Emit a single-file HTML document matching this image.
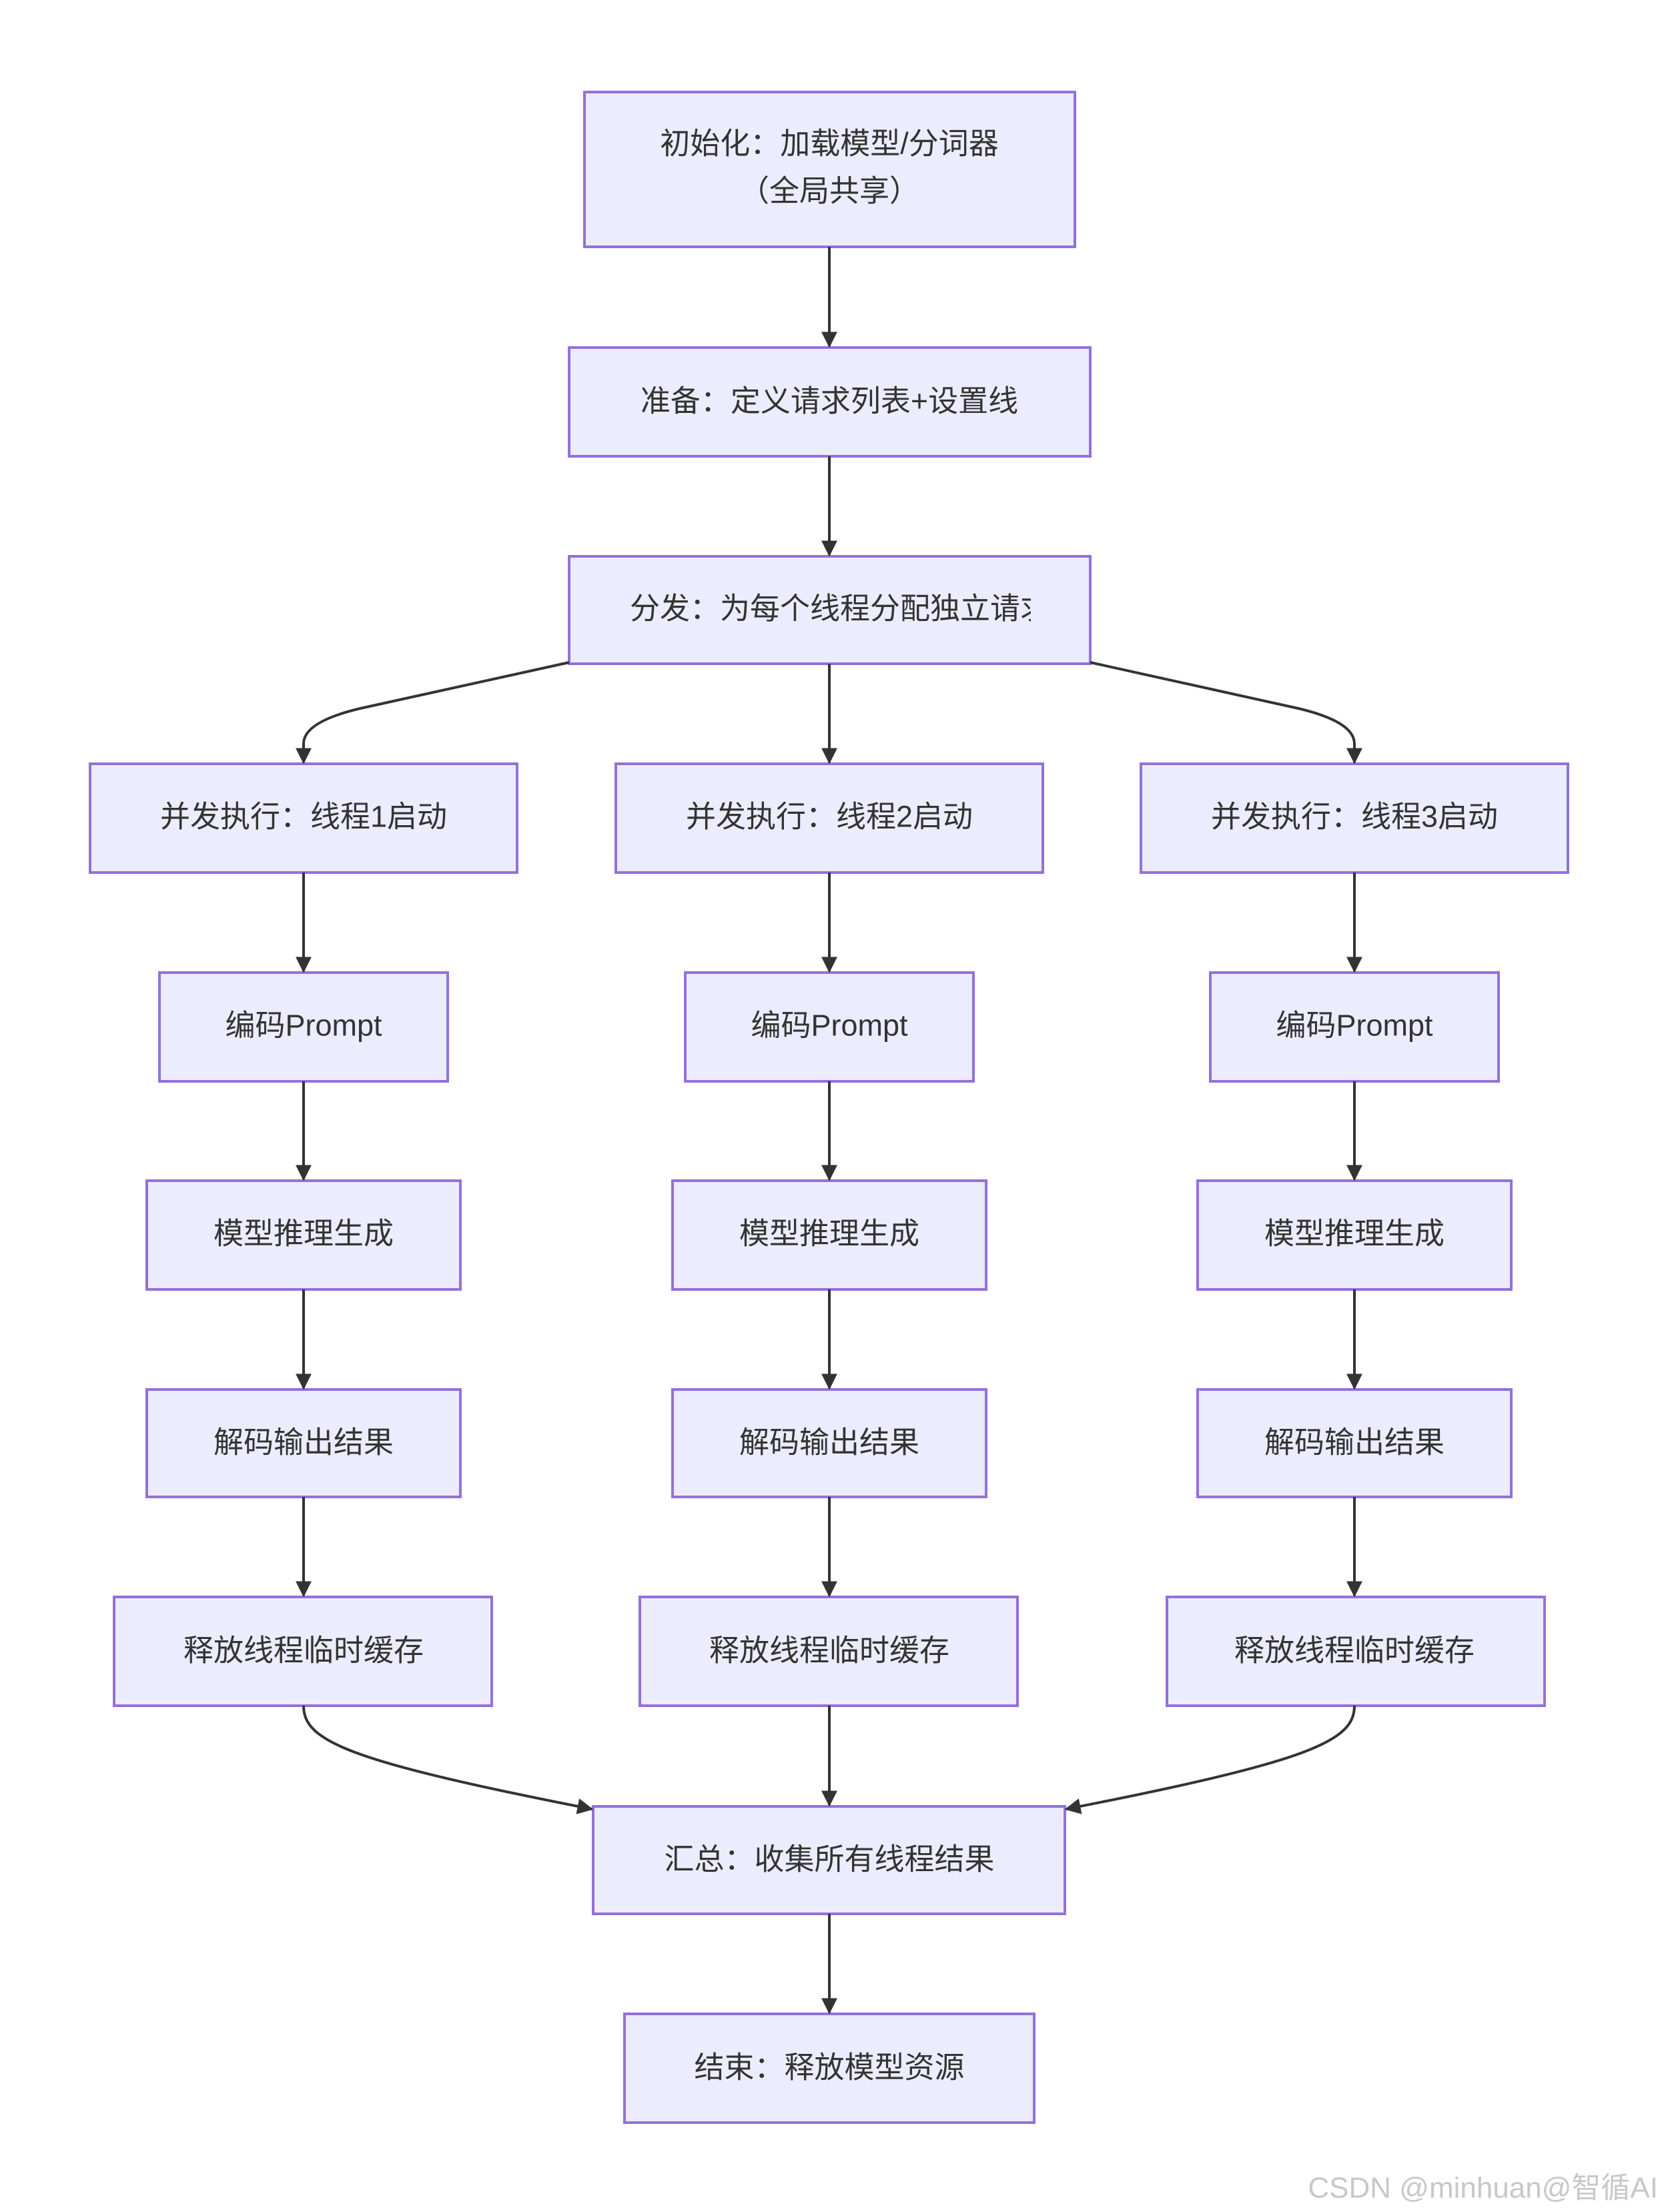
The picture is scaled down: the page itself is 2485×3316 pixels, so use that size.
<!DOCTYPE html>
<html><head><meta charset="utf-8"><style>
html,body{margin:0;padding:0;background:#fff;}
svg{display:block;}
text{font-family:"Liberation Sans","Noto Sans CJK SC",sans-serif;font-size:45px;fill:#333;text-anchor:middle;dominant-baseline:central;}
</style></head><body>
<svg width="2485" height="3316" viewBox="0 0 2485 3316" xmlns="http://www.w3.org/2000/svg">
<defs>
<marker id="a" viewBox="0 0 10 10" refX="9" refY="5" markerWidth="6" markerHeight="6" markerUnits="strokeWidth" orient="auto">
<path d="M0,0 L10,5 L0,10 z" fill="#333"/></marker>
<clipPath id="c3"><rect x="853" y="834" width="692" height="161"/></clipPath>
</defs>
<g fill="#ECECFF" stroke="#9370DB" stroke-width="4">
<rect x="876" y="138" width="735" height="232"/>
<rect x="853" y="521" width="781" height="163"/>
<rect x="853" y="834" width="781" height="161"/>
<rect x="135" y="1145" width="640" height="163"/>
<rect x="923" y="1145" width="640" height="163"/>
<rect x="1710" y="1145" width="640" height="163"/>
<rect x="239" y="1458" width="432" height="163"/>
<rect x="1027" y="1458" width="432" height="163"/>
<rect x="1814" y="1458" width="432" height="163"/>
<rect x="220" y="1770" width="470" height="163"/>
<rect x="1008" y="1770" width="470" height="163"/>
<rect x="1795" y="1770" width="470" height="163"/>
<rect x="220" y="2083" width="470" height="161"/>
<rect x="1008" y="2083" width="470" height="161"/>
<rect x="1795" y="2083" width="470" height="161"/>
<rect x="171" y="2394" width="566" height="163"/>
<rect x="959" y="2394" width="566" height="163"/>
<rect x="1749" y="2394" width="566" height="163"/>
<rect x="889" y="2708" width="707" height="161"/>
<rect x="936" y="3019" width="614" height="163"/>
</g>
<g stroke="#333" stroke-width="4" fill="none" marker-end="url(#a)">
<path d="M1243,370 L1243,519"/>
<path d="M1243,684 L1243,832"/>
<path d="M1243,995 L1243,1143"/>
<path d="M853,993 L540,1062 Q455,1082 455,1115 L455,1143"/>
<path d="M1634,993 L1946,1062 Q2030,1082 2030,1115 L2030,1143"/>
<path d="M455,1308 L455,1456"/><path d="M1243,1308 L1243,1456"/><path d="M2030,1308 L2030,1456"/>
<path d="M455,1621 L455,1768"/><path d="M1243,1621 L1243,1768"/><path d="M2030,1621 L2030,1768"/>
<path d="M455,1933 L455,2081"/><path d="M1243,1933 L1243,2081"/><path d="M2030,1933 L2030,2081"/>
<path d="M455,2244 L455,2392"/><path d="M1243,2244 L1243,2392"/><path d="M2030,2244 L2030,2392"/>
<path d="M455,2557 C455,2610 520,2640 887,2712"/>
<path d="M2030,2557 C2030,2610 1965,2640 1598,2712"/>
<path d="M1243,2557 L1243,2706"/>
<path d="M1243,2869 L1243,3017"/>
</g>
<text x="1243" y="215">初始化：加载模型/分词器</text>
<text x="1243" y="286">（全局共享）</text>
<text x="1243" y="601">准备：定义请求列表+设置线</text>
<g clip-path="url(#c3)"><text x="944" y="912" style="text-anchor:start">分发：为每个线程分配独立请求</text></g>
<text x="455" y="1224">并发执行：线程1启动</text>
<text x="1243" y="1224">并发执行：线程2启动</text>
<text x="2030" y="1224">并发执行：线程3启动</text>
<text x="455" y="1537">编码Prompt</text>
<text x="1243" y="1537">编码Prompt</text>
<text x="2030" y="1537">编码Prompt</text>
<text x="455" y="1849">模型推理生成</text>
<text x="1243" y="1849">模型推理生成</text>
<text x="2030" y="1849">模型推理生成</text>
<text x="455" y="2162">解码输出结果</text>
<text x="1243" y="2162">解码输出结果</text>
<text x="2030" y="2162">解码输出结果</text>
<text x="455" y="2474">释放线程临时缓存</text>
<text x="1243" y="2474">释放线程临时缓存</text>
<text x="2030" y="2474">释放线程临时缓存</text>
<text x="1243" y="2787">汇总：收集所有线程结果</text>
<text x="1243" y="3099">结束：释放模型资源</text>
<text x="2485" y="3280" style="text-anchor:end;fill:#c8c8c8;font-size:44px">CSDN @minhuan@智循AI</text>
</svg>
</body></html>
